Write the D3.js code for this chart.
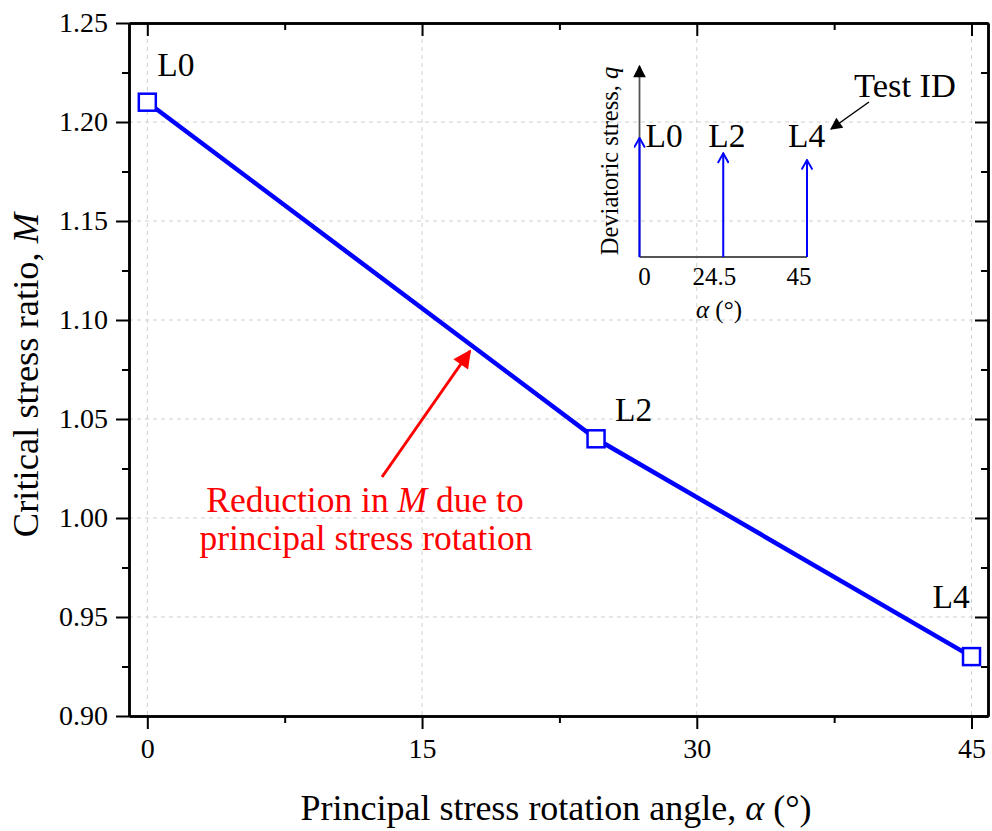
<!DOCTYPE html>
<html>
<head>
<meta charset="utf-8">
<script src="https://cdn.jsdelivr.net/npm/d3@7"></script>
<style>
  body { margin: 0; background: #fff; }
  text { font-family: "Liberation Serif", "Times New Roman", serif; fill: #000; }
</style>
</head>
<body>
<div id="chart"></div>
<script>
// critical stress ratio M against principal stress rotation angle
var angles = [0, 24.5, 45];
var ratios = [1.21, 1.04, 0.93];
var testIds = ["L0", "L2", "L4"];
var xTicks = [0, 15, 30, 45];
var xMinor = [7.5, 22.5, 37.5];
var yTicks = [0.90, 0.95, 1.00, 1.05, 1.10, 1.15, 1.20, 1.25];
var yMinor = [0.925, 0.975, 1.025, 1.075, 1.125, 1.175, 1.225];

// inset: loading schematic (relative q reached for each test)
var insetLabels = ["0", "24.5", "45"];
var insetQ = [0.62, 0.54, 0.505];

var W = 992, H = 831;
var pLeft = 129, pRight = 988, pTop = 23, pBottom = 716;

var svg = d3.select("#chart").append("svg")
    .attr("width", W).attr("height", H);

var defs = svg.append("defs");
defs.append("marker").attr("id", "redHead")
    .attr("viewBox", "0 0 10 10").attr("refX", 9).attr("refY", 5)
    .attr("markerWidth", 8).attr("markerHeight", 6)
    .attr("markerUnits", "strokeWidth").attr("orient", "auto")
  .append("path").attr("d", "M0,0L10,5L0,10z").attr("fill", "#ff0000");
defs.append("marker").attr("id", "blackHead")
    .attr("viewBox", "0 0 10 10").attr("refX", 9).attr("refY", 5)
    .attr("markerWidth", 12).attr("markerHeight", 8)
    .attr("markerUnits", "strokeWidth").attr("orient", "auto")
  .append("path").attr("d", "M0,0L10,5L0,10z").attr("fill", "#000");
defs.append("marker").attr("id", "axisHead")
    .attr("viewBox", "0 0 10 10").attr("refX", 9).attr("refY", 5)
    .attr("markerWidth", 11).attr("markerHeight", 7)
    .attr("markerUnits", "strokeWidth").attr("orient", "auto")
  .append("path").attr("d", "M0,0L10,5L0,10z").attr("fill", "#000");
defs.append("marker").attr("id", "blueHead")
    .attr("viewBox", "0 0 10 10").attr("refX", 9).attr("refY", 5)
    .attr("markerWidth", 6).attr("markerHeight", 6)
    .attr("markerUnits", "strokeWidth").attr("orient", "auto")
  .append("path").attr("d", "M1,0.5L9,5L1,9.5").attr("fill", "none")
    .attr("stroke", "#0000ff").attr("stroke-width", 1.6);

var x = d3.scaleLinear().domain([-1, 45.9]).range([pLeft, pRight]);
var y = d3.scaleLinear().domain([0.90, 1.25]).range([pBottom, pTop]);

// dashed grid
var grid = svg.append("g").attr("stroke", "#cfcfcf").attr("stroke-width", 1)
    .attr("stroke-dasharray", "4,4");
grid.selectAll(".gx").data(xTicks).enter().append("line")
    .attr("x1", function(d) { return x(d); }).attr("x2", function(d) { return x(d); })
    .attr("y1", pTop).attr("y2", pBottom);
grid.selectAll(".gy").data(yTicks.slice(1, -1)).enter().append("line")
    .attr("y1", function(d) { return y(d); }).attr("y2", function(d) { return y(d); })
    .attr("x1", pLeft).attr("x2", pRight);

// axes: major + minor ticks, outward on bottom/left, inward on top/right
function styleAxis(g) {
  g.attr("font-family", null).attr("font-size", null);
  g.selectAll("line").attr("stroke", "#000").attr("stroke-width", 2);
  g.selectAll("path").attr("stroke", "#000").attr("stroke-width", 2.5);
  g.selectAll("text").attr("font-size", 28).attr("fill", "#000");
}
var fmtY = d3.format(".2f");

svg.append("g").attr("transform", "translate(0," + pBottom + ")")
    .call(d3.axisBottom(x).tickValues(xTicks).tickSize(13).tickSizeOuter(0).tickPadding(9))
    .call(styleAxis);
svg.append("g").attr("transform", "translate(0," + pBottom + ")")
    .call(d3.axisBottom(x).tickValues(xMinor).tickSize(7).tickSizeOuter(0).tickFormat(""))
    .call(styleAxis);
svg.append("g").attr("transform", "translate(" + pLeft + ",0)")
    .call(d3.axisLeft(y).tickValues(yTicks).tickSize(13).tickSizeOuter(0).tickPadding(8).tickFormat(fmtY))
    .call(styleAxis);
svg.append("g").attr("transform", "translate(" + pLeft + ",0)")
    .call(d3.axisLeft(y).tickValues(yMinor).tickSize(7).tickSizeOuter(0).tickFormat(""))
    .call(styleAxis);
svg.append("g").attr("transform", "translate(0," + pTop + ")")
    .call(d3.axisTop(x).tickValues(xTicks).tickSize(-13).tickSizeOuter(0).tickFormat(""))
    .call(styleAxis);
svg.append("g").attr("transform", "translate(0," + pTop + ")")
    .call(d3.axisTop(x).tickValues(xMinor).tickSize(-7).tickSizeOuter(0).tickFormat(""))
    .call(styleAxis);
svg.append("g").attr("transform", "translate(" + pRight + ",0)")
    .call(d3.axisRight(y).tickValues(yTicks).tickSize(-13).tickSizeOuter(0).tickFormat(""))
    .call(styleAxis);
svg.append("g").attr("transform", "translate(" + pRight + ",0)")
    .call(d3.axisRight(y).tickValues(yMinor).tickSize(-7).tickSizeOuter(0).tickFormat(""))
    .call(styleAxis);

// axis titles
svg.append("text")
    .attr("x", 556).attr("y", 820)
    .attr("text-anchor", "middle").attr("font-size", 36)
    .html('Principal stress rotation angle, <tspan font-style="italic">α</tspan> (°)');
svg.append("text")
    .attr("transform", "translate(38," + 375 + ") rotate(-90)")
    .attr("text-anchor", "middle").attr("font-size", 36.5)
    .html('Critical stress ratio, <tspan font-style="italic">M</tspan>');

// data series
var pts = angles.map(function(a, i) { return { a: a, m: ratios[i], id: testIds[i] }; });
var line = d3.line().x(function(d) { return x(d.a); }).y(function(d) { return y(d.m); });
svg.append("path").datum(pts)
    .attr("d", line).attr("fill", "none")
    .attr("stroke", "#0000ff").attr("stroke-width", 4.5);
svg.selectAll(".pt").data(pts).enter().append("rect")
    .attr("x", function(d) { return x(d.a) - 8.5; })
    .attr("y", function(d) { return y(d.m) - 8.5; })
    .attr("width", 17).attr("height", 17)
    .attr("fill", "#fff").attr("stroke", "#0000ff").attr("stroke-width", 2.5);

// test ID labels next to each point
var labelOff = [[10, -26], [19, -18], [-39, -49]];
svg.selectAll(".lab").data(pts).enter().append("text")
    .attr("x", function(d, i) { return x(d.a) + labelOff[i][0]; })
    .attr("y", function(d, i) { return y(d.m) + labelOff[i][1]; })
    .attr("font-size", 33.5)
    .text(function(d) { return d.id; });

// red annotation
svg.append("line")
    .attr("x1", 382).attr("y1", 477).attr("x2", 470).attr("y2", 351)
    .attr("stroke", "#ff0000").attr("stroke-width", 3)
    .attr("marker-end", "url(#redHead)");
var note = svg.append("text").attr("text-anchor", "middle").attr("font-size", 35.5)
    .style("fill", "#ff0000");
note.append("tspan").attr("x", 365).attr("y", 512)
    .html('Reduction in <tspan font-style="italic">M</tspan> due to');
note.append("tspan").attr("x", 366).attr("y", 550).text("principal stress rotation");

// inset schematic of the loading paths
var ix = d3.scalePoint().domain(insetLabels).range([639.5, 807]);
var iy = d3.scaleLinear().domain([0, 1]).range([257, 65]);
var inset = svg.append("g");
inset.append("line")
    .attr("x1", ix("0")).attr("x2", ix("45")).attr("y1", iy(0)).attr("y2", iy(0))
    .attr("stroke", "#555").attr("stroke-width", 1.8);
inset.append("line")
    .attr("x1", ix("0")).attr("x2", ix("0")).attr("y1", iy(0)).attr("y2", iy(1) + 1)
    .attr("stroke", "#555").attr("stroke-width", 1.8)
    .attr("marker-end", "url(#axisHead)");
inset.selectAll(".arr").data(insetLabels).enter().append("line")
    .attr("x1", function(d) { return ix(d); }).attr("x2", function(d) { return ix(d); })
    .attr("y1", iy(0)).attr("y2", function(d, i) { return iy(insetQ[i]); })
    .attr("stroke", "#0000ff").attr("stroke-width", 2)
    .attr("marker-end", "url(#blueHead)");
inset.selectAll(".itk").data(insetLabels).enter().append("text")
    .attr("x", function(d, i) { return ix(d) + [5, -9, -8][i]; })
    .attr("y", 285).attr("text-anchor", "middle").attr("font-size", 25)
    .text(function(d) { return d; });
inset.selectAll(".ilab").data(testIds).enter().append("text")
    .attr("x", function(d, i) { return ix(insetLabels[i]) + [6, -15, -19][i]; })
    .attr("y", 147).attr("font-size", 33.5)
    .text(function(d) { return d; });
inset.append("text")
    .attr("x", 719).attr("y", 318).attr("text-anchor", "middle").attr("font-size", 25)
    .html('<tspan font-style="italic">α</tspan> (°)');
inset.append("text")
    .attr("transform", "translate(618,161) rotate(-90)")
    .attr("text-anchor", "middle").attr("font-size", 24.5)
    .html('Deviatoric stress, <tspan font-style="italic">q</tspan>');

// "Test ID" callout
svg.append("text").attr("x", 854).attr("y", 97).attr("font-size", 34.5).text("Test ID");
svg.append("line")
    .attr("x1", 869).attr("y1", 102).attr("x2", 831).attr("y2", 129)
    .attr("stroke", "#000").attr("stroke-width", 1.5)
    .attr("marker-end", "url(#blackHead)");
</script>
</body>
</html>
